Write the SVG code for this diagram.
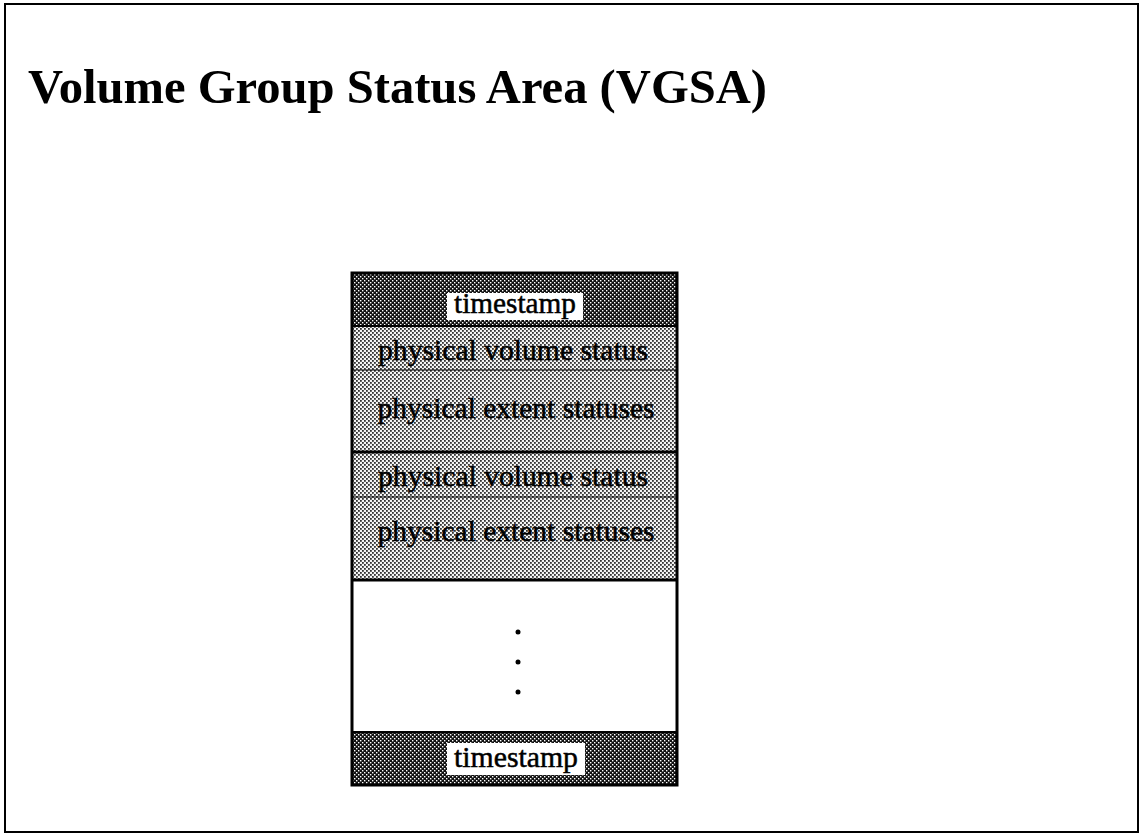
<svg xmlns="http://www.w3.org/2000/svg" width="1142" height="836" viewBox="0 0 1142 836">
<defs>
<pattern id="dark" width="4" height="4" patternUnits="userSpaceOnUse">
<rect width="4" height="4" fill="#111"/>
<rect x="0" y="0" width="1.4" height="1.4" fill="#fff"/>
<rect x="2" y="2" width="1.4" height="1.4" fill="#fff"/>
</pattern>
<pattern id="light" width="4" height="4" patternUnits="userSpaceOnUse">
<rect width="4" height="4" fill="#f4f4f4"/>
<rect x="0" y="0" width="1.8" height="1.8" fill="#333"/>
<rect x="2" y="2" width="1.8" height="1.8" fill="#333"/>
</pattern>
</defs>
<style>
.t{font-family:"Liberation Serif","Times New Roman",serif;font-size:30px;fill:#000;stroke:#000;stroke-width:0.5;text-anchor:middle}
.title{font-family:"Liberation Serif","Times New Roman",serif;font-size:48px;font-weight:bold;fill:#000}
.sep{stroke:#000;fill:none}
</style>
<rect width="1142" height="836" fill="#fff"/>
<rect x="5" y="4" width="1133" height="828" fill="none" stroke="#000" stroke-width="2"/>
<text class="title" x="28" y="103" textLength="739" lengthAdjust="spacingAndGlyphs">Volume Group Status Area (VGSA)</text>

<g id="vgsa">
<g id="timestamp-top">
<rect x="352" y="273" width="325" height="53" fill="url(#dark)"/>
<rect x="447" y="293" width="136" height="27" fill="#fff"/>
<text class="t" x="515" y="313" textLength="122" lengthAdjust="spacingAndGlyphs">timestamp</text>
</g>
<g id="pv-status-1">
<rect x="352" y="326" width="325" height="44" fill="url(#light)"/>
<text class="t" x="513" y="360" textLength="270" lengthAdjust="spacingAndGlyphs">physical volume status</text>
</g>
<g id="pe-statuses-1">
<rect x="352" y="370" width="325" height="82" fill="url(#light)"/>
<text class="t" x="516" y="418" textLength="277" lengthAdjust="spacingAndGlyphs">physical extent statuses</text>
</g>
<g id="pv-status-2">
<rect x="352" y="452" width="325" height="45" fill="url(#light)"/>
<text class="t" x="513" y="486" textLength="270" lengthAdjust="spacingAndGlyphs">physical volume status</text>
</g>
<g id="pe-statuses-2">
<rect x="352" y="497" width="325" height="83" fill="url(#light)"/>
<text class="t" x="516" y="541" textLength="277" lengthAdjust="spacingAndGlyphs">physical extent statuses</text>
</g>
<g id="ellipsis">
<rect x="352" y="580" width="325" height="152" fill="#fff"/>
<circle cx="518" cy="632" r="2.5" fill="#000"/>
<circle cx="518" cy="662" r="2.5" fill="#000"/>
<circle cx="518" cy="692" r="2.5" fill="#000"/>
</g>
<g id="timestamp-bottom">
<rect x="352" y="732" width="325" height="53" fill="url(#dark)"/>
<rect x="447" y="743" width="138" height="32" fill="#fff"/>
<text class="t" x="516" y="767" textLength="124" lengthAdjust="spacingAndGlyphs">timestamp</text>
</g>
<g id="lines">
<line class="sep" x1="352" y1="326" x2="677" y2="326" stroke-width="2"/>
<line class="sep" x1="352" y1="370" x2="677" y2="370" stroke-width="1"/>
<line class="sep" x1="352" y1="452" x2="677" y2="452" stroke-width="3"/>
<line class="sep" x1="352" y1="497" x2="677" y2="497" stroke-width="1"/>
<line class="sep" x1="352" y1="580" x2="677" y2="580" stroke-width="3"/>
<line class="sep" x1="352" y1="732" x2="677" y2="732" stroke-width="2"/>
<rect x="352" y="273" width="325" height="512" fill="none" stroke="#000" stroke-width="3"/>
</g>
</g>
</svg>
